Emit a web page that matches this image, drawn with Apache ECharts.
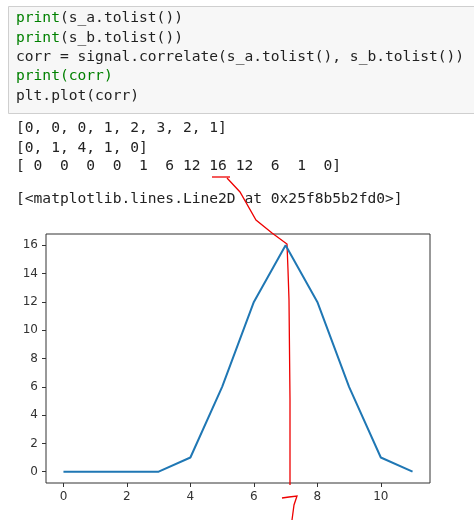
<!DOCTYPE html>
<html>
<head>
<meta charset="utf-8">
<script src="https://cdn.jsdelivr.net/npm/echarts@6/dist/echarts.min.js"></script>
<style>
  html, body { margin: 0; padding: 0; background: #fff; }
  #chartMain { width: 474px; height: 520px; }
</style>
</head>
<body>
<div id="chartMain"></div>
<script>
var sA = [0, 0, 0, 1, 2, 3, 2, 1];
var sB = [0, 1, 4, 1, 0];
var corr = [0, 0, 0, 0, 1, 6, 12, 16, 12, 6, 1, 0];
var xTicks = [0, 2, 4, 6, 8, 10];
var yTicks = [0, 2, 4, 6, 8, 10, 12, 14, 16];

var mono = '"DejaVu Sans Mono", "Liberation Mono", monospace';
var fs = 14.6;

// 代码行
function codeLine(parts, y) {
  var els = [];
  var x = 16;
  for (var i = 0; i < parts.length; i++) {
    els.push({
      type: 'text', left: x, top: y - 9,
      style: { text: parts[i][0], fill: parts[i][1], font: fs + 'px ' + mono }
    });
    x += parts[i][0].length * fs * 0.602;
  }
  return els;
}

var green = '#008000', black = '#222';
var graphics = [{
  type: 'rect', left: 8, top: 6,
  shape: { width: 470, height: 107 },
  style: { fill: '#f7f7f7', stroke: '#cfcfcf', lineWidth: 1 }
}];
graphics = graphics
  .concat(codeLine([['print', green], ['(s_a.tolist())', black]], 20))
  .concat(codeLine([['print', green], ['(s_b.tolist())', black]], 40))
  .concat(codeLine([['corr = signal.correlate(s_a.tolist(), s_b.tolist())', black]], 59))
  .concat(codeLine([['print', green], ['(corr)', green]], 78))
  .concat(codeLine([['plt.plot(corr)', black]], 98));

var outs = [
  '[' + sA.join(', ') + ']',
  '[' + sB.join(', ') + ']',
  '[ ' + corr.map(function(v) { return (v < 10 ? ' ' : '') + v; }).join(' ').replace(/^ /, '') + ']',
  '[<matplotlib.lines.Line2D at 0x25f8b5b2fd0>]'
];
var outY = [130, 150, 168, 201];
for (var i = 0; i < outs.length; i++) {
  graphics = graphics.concat(codeLine([[outs[i], black]], outY[i]));
}

// 红色手写标注
graphics.push({
  type: 'polyline', shape: { points: [[212, 177], [230, 177]] },
  style: { stroke: '#e00', lineWidth: 1.3, fill: null }
});
graphics.push({
  type: 'polyline',
  shape: { points: [[227, 178], [240, 192], [256, 220], [272, 233], [287, 244], [288, 270], [289, 300], [290, 400], [290, 460], [290, 485]] },
  style: { stroke: '#e00', lineWidth: 1.3, fill: null }
});
graphics.push({
  type: 'polyline',
  shape: { points: [[282, 498], [289, 497], [297, 496], [294, 505], [292, 520]] },
  style: { stroke: '#e00', lineWidth: 1.3, fill: null }
});

var myChart = echarts.init(document.getElementById('chartMain'));
var option = {
  animation: false,
  grid: { left: 46, right: 44, top: 234, bottom: 37, show: true, borderColor: '#333', borderWidth: 1, backgroundColor: '#fff' },
  xAxis: {
    type: 'value', min: -0.55, max: 11.55,
    axisLine: { show: false, onZero: false },
    splitLine: { show: false },
    axisTick: { show: true, length: 4, customValues: xTicks, lineStyle: { color: '#333' } },
    axisLabel: { customValues: xTicks, color: '#333', fontSize: 12, fontFamily: 'DejaVu Sans', margin: 8 }
  },
  yAxis: {
    type: 'value', min: -0.8, max: 16.8,
    axisLine: { show: false, onZero: false },
    splitLine: { show: false },
    axisTick: { show: true, length: 4, customValues: yTicks, lineStyle: { color: '#333' } },
    axisLabel: { customValues: yTicks, color: '#333', fontSize: 12, fontFamily: 'DejaVu Sans', margin: 8 }
  },
  series: [{
    type: 'line',
    data: corr.map(function(v, i) { return [i, v]; }),
    showSymbol: false,
    lineStyle: { color: '#1f77b4', width: 2 },
    z: 2
  }],
  graphic: graphics
};
myChart.setOption(option);
</script>
</body>
</html>
